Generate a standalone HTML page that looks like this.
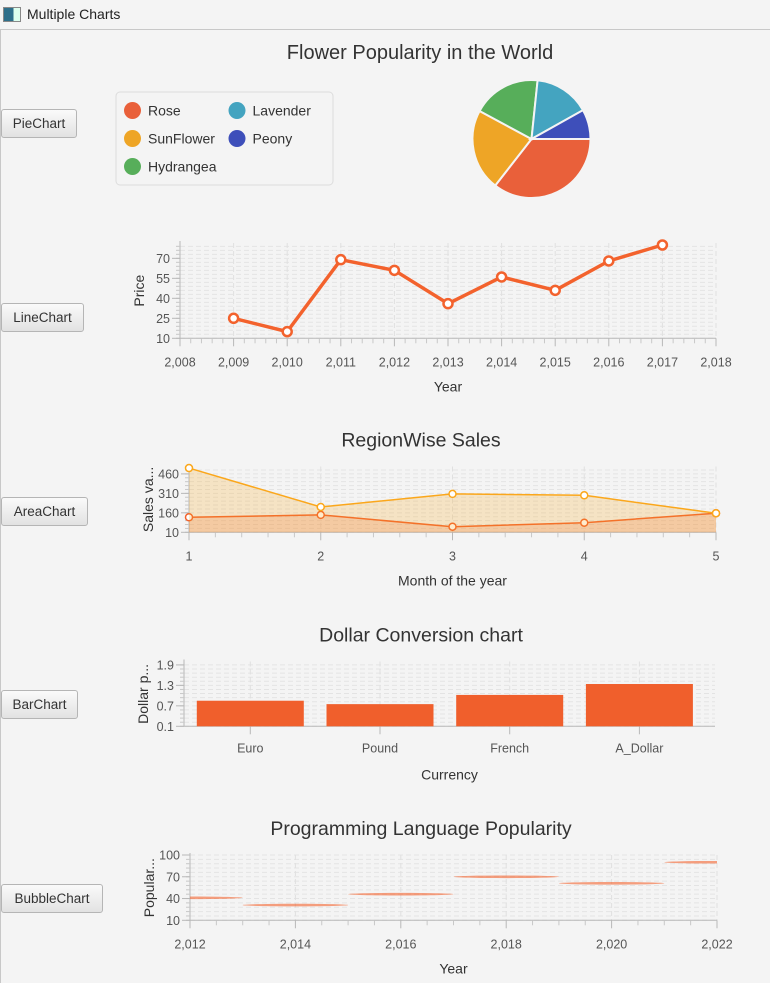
<!DOCTYPE html>
<html><head><meta charset="utf-8">
<style>
body{margin:0;width:770px;height:983px;background:#f4f4f4;overflow:hidden;font-family:"Liberation Sans",sans-serif;position:relative}
.btn{position:absolute;left:1px;height:29px;border:1px solid #b5b5b5;border-radius:3px;background:linear-gradient(#fafafa,#e2e2e2);font-size:13.5px;color:#333;display:flex;align-items:center;justify-content:center;box-sizing:border-box}
#titlebar{position:absolute;left:0;top:0;width:770px;height:29px;border-bottom:1px solid #c8c8c8;background:#f4f4f4}
svg text{font-family:"Liberation Sans",sans-serif}
</style></head><body>
<div id="titlebar">
 <div style="position:absolute;left:3px;top:7px;width:16px;height:13px;border:1px solid #888;background:linear-gradient(90deg,#2d6f8a 60%,#dfe 60%)"></div>
 <div style="position:absolute;left:27px;top:6px;font-size:14px;color:#222">Multiple Charts</div>
</div>
<div style="position:absolute;left:0;top:30px;width:1px;height:953px;background:#c8c8c8"></div>
<div class="btn" style="top:109px;width:76px">PieChart</div>
<div class="btn" style="top:303px;width:83px">LineChart</div>
<div class="btn" style="top:497px;width:87px">AreaChart</div>
<div class="btn" style="top:690px;width:77px">BarChart</div>
<div class="btn" style="top:884px;width:102px">BubbleChart</div>
<svg id="s" width="770" height="983" style="position:absolute;left:0;top:0"></svg>
<script>
// ---- data ----
const pieLabels=["Rose","SunFlower","Hydrangea","Lavender","Peony"];
const pieValues=[35,22,18.5,15,8];
const pieColors=["#e9603a","#eea526","#57ae5a","#44a4c0","#3e4fba"];
const lineYears=[2009,2010,2011,2012,2013,2014,2015,2016,2017];
const linePrices=[25,15,69,61,36,56,46,68,80];
const lineXTicks=[2008,2009,2010,2011,2012,2013,2014,2015,2016,2017,2018];
const lineYTicks=[10,25,40,55,70];
const areaMonths=[1,2,3,4,5];
const areaSeriesA=[126,144,53,84,157];
const areaSeriesB=[505,205,306,295,157];
const areaXTicks=[1,2,3,4,5];
const areaYTicks=[10,160,310,460];
const barCategories=["Euro","Pound","French","A_Dollar"];
const barValues=[0.85,0.75,1.02,1.34];
const barYTicks=[0.1,0.7,1.3,1.9];
const bubbleYears=[2012,2014,2016,2018,2020,2022];
const bubblePopularity=[41,31,46,70,61,90];
const bubbleRadius=[1,1,1,1,1,1];
const bubbleXTicks=[2012,2014,2016,2018,2020,2022];
const bubbleYTicks=[10,40,70,100];

const S=document.getElementById('s');const NS='http://www.w3.org/2000/svg';
function el(tag,attrs,parent,text){const e=document.createElementNS(NS,tag);for(const k in attrs)e.setAttribute(k,attrs[k]);if(text!==undefined)e.textContent=text;(parent||S).appendChild(e);return e;}
function fmt(v){return v>=1000?String(v).replace(/(\d)(\d{3})$/,'$1,$2'):String(v);}

function frame(c){
  const g=el('g',{});
  c.sy=v=>c.y1-(v-c.ymin)/(c.ymax-c.ymin)*(c.y1-c.y0);
  const st=(c.yTicks[1]-c.yTicks[0])/5;
  for(let v=c.yTicks[0];v<=c.ymax+1e-9;v+=st){const y=c.sy(v);if(y<c.y0-0.5)break;
    const ln=el('line',{x1:c.x0,x2:c.x1,y1:y,y2:y,stroke:'#e3e3e3','stroke-dasharray':'5 3','stroke-width':1},g);
    }
  (c.vgrid||[]).forEach(x=>{const ln=el('line',{x1:x,x2:x,y1:c.y0,y2:c.y1,stroke:'#e0e0e0','stroke-dasharray':'5 3'},g);
    });
  el('line',{x1:c.x0,x2:c.x0,y1:c.y0-2,y2:c.y1,stroke:'#b8b8b8'},g);
  for(let v=c.yTicks[0];v<=c.ymax+1e-9;v+=st){const y=c.sy(v);el('line',{x1:c.x0-4,x2:c.x0,y1:y,y2:y,stroke:'#c8c8c8'},g);}
  c.yTicks.forEach(v=>{const y=c.sy(v);el('line',{x1:c.x0-8,x2:c.x0,y1:y,y2:y,stroke:'#b8b8b8'},g);
    const t=el('text',{x:c.x0-10,y:y+4.5,'text-anchor':'end','font-size':12.5,fill:'#555'},g,c.yFmt?c.yFmt(v):v);
    });
  el('line',{x1:c.x0,x2:c.x1,y1:c.y1,y2:c.y1,stroke:'#b8b8b8'},g);
  const yt=el('text',{x:0,y:0,'text-anchor':'middle','font-size':14,fill:'#333',transform:`translate(${c.x0-36},${(c.y0+c.y1)/2}) rotate(-90)`},g,c.yTitle);
  
  const xt=el('text',{x:(c.x0+c.x1)/2,y:c.y1+53,'text-anchor':'middle','font-size':14,fill:'#333'},g,c.xTitle);
  
  if(c.title){const tt=el('text',{x:421,y:c.y0-20,'text-anchor':'middle','font-size':19.5,fill:'#333'},g,c.title);
    }
  return g;
}
function numXTicks(c,g,ticks,minor){
  const step=ticks[1]-ticks[0];
  ticks.forEach((v,i)=>{const x=c.sx(v);el('line',{x1:x,x2:x,y1:c.y1,y2:c.y1+8,stroke:'#b8b8b8'},g);
    const t=el('text',{x:x,y:c.y1+28,'text-anchor':'middle','font-size':12.5,fill:'#555'},g,fmt(v));
    
    if(i<ticks.length-1)for(let k=1;k<minor;k++){const xm=c.sx(v+step*k/minor);el('line',{x1:xm,x2:xm,y1:c.y1,y2:c.y1+5,stroke:'#c8c8c8'},g);}
  });
}

// ---- Pie ----
(function(){
  const g=el('g',{});
  const t=el('text',{x:420,y:59,'text-anchor':'middle','font-size':20,fill:'#333'},g,'Flower Popularity in the World');
  
  const cx=531.5,cy=139,r=59;const tot=pieValues.reduce((a,b)=>a+b,0);let a=0;
  pieValues.forEach((v,i)=>{const a2=a+v/tot*2*Math.PI;
    const x1=cx+r*Math.cos(a),y1=cy+r*Math.sin(a),x2=cx+r*Math.cos(a2),y2=cy+r*Math.sin(a2);
    const p=el('path',{d:`M${cx},${cy}L${x1},${y1}A${r},${r} 0 ${a2-a>Math.PI?1:0} 1 ${x2},${y2}Z`,fill:pieColors[i],stroke:'#f4f4f4','stroke-width':2},g);
    a=a2;});
  const lg=el('rect',{x:116,y:92,width:217,height:93,rx:4,fill:'#f4f4f4',stroke:'#dcdcdc'},g);
  
  const pos=[[132.5,110.5],[132.5,138.5],[132.5,166.5],[237,110.5],[237,138.5]];
  pieLabels.forEach((n,i)=>{const c=el('circle',{cx:pos[i][0],cy:pos[i][1],r:8.5,fill:pieColors[i]},g);
    
    const tx=el('text',{x:pos[i][0]+15.5,y:pos[i][1]+5,'font-size':14,fill:'#333'},g,n);
    });
})();

// ---- Line ----
(function(){
  const c={name:'line-chart',x0:180,x1:716,y0:243,y1:338.3,xmin:2008,xmax:2018,ymin:10,ymax:81.5,yTicks:lineYTicks,yTitle:'Price',xTitle:'Year'};
  c.sx=v=>c.x0+(v-c.xmin)/(c.xmax-c.xmin)*(c.x1-c.x0);c.vgrid=lineXTicks.map(c.sx);
  const g=frame(c);numXTicks(c,g,lineXTicks,5);
  const pts=lineYears.map((y,i)=>[c.sx(y),c.sy(linePrices[i])]);
  const pl=el('polyline',{points:pts.join(' '),fill:'none',stroke:'#f3622d','stroke-width':3.5,'stroke-linejoin':'round'},g);
  
  pts.forEach(p=>{const m=el('circle',{cx:p[0],cy:p[1],r:4.5,fill:'#fff',stroke:'#f3622d','stroke-width':2.5},g);
    });
})();

// ---- Area ----
(function(){
  const c={name:'area-chart',title:'RegionWise Sales',x0:189,x1:716,y0:466.5,y1:532.3,xmin:1,xmax:5,ymin:10,ymax:517,yTicks:areaYTicks,yTitle:'Sales va...',xTitle:'Month of the year'};
  c.sx=v=>c.x0+(v-c.xmin)/(c.xmax-c.xmin)*(c.x1-c.x0);c.vgrid=areaXTicks.map(c.sx);
  const g=frame(c);numXTicks(c,g,areaXTicks,5);
  [[areaSeriesA,'#f3622d','region-a'],[areaSeriesB,'#fba71b','region-b']].forEach(([d,col,n])=>{
    const pts=areaMonths.map((m,i)=>[c.sx(m),c.sy(d[i])]);
    const poly=pts.concat([[c.sx(areaMonths[areaMonths.length-1]),c.y1],[c.sx(areaMonths[0]),c.y1]]);
    const a=el('polygon',{points:poly.join(' '),fill:col,'fill-opacity':0.22},g);
    
    const l=el('polyline',{points:pts.join(' '),fill:'none',stroke:col,'stroke-width':1.5},g);
    
    pts.forEach(p=>{const m=el('circle',{cx:p[0],cy:p[1],r:3.5,fill:'#fff',stroke:col,'stroke-width':1.5},g);
      });
  });
})();

// ---- Bar ----
(function(){
  const c={name:'bar-chart',title:'Dollar Conversion chart',x0:184,x1:715,y0:661.5,y1:726.3,ymin:0.1,ymax:2.0,yTicks:barYTicks,yTitle:'Dollar p...',xTitle:'Currency',yFmt:v=>v.toFixed(1)};
  const band=129.7,first=c.x0+66.3;
  c.sx=i=>first+i*band;c.vgrid=barCategories.map((b,i)=>c.sx(i));
  const g=frame(c);
  const bw=107;
  barCategories.forEach((n,i)=>{const cx=c.sx(i);
    el('line',{x1:cx,x2:cx,y1:c.y1,y2:c.y1+8,stroke:'#b8b8b8'},g);
    const t=el('text',{x:cx,y:c.y1+26,'text-anchor':'middle','font-size':12.5,fill:'#555'},g,n);
    
    const y=c.sy(barValues[i]);
    const r=el('rect',{x:cx-bw/2,y:y,width:bw,height:c.y1-y,fill:'#f05f2c'},g);
    });
})();

// ---- Bubble ----
(function(){
  const c={name:'bubble-chart',title:'Programming Language Popularity',x0:190,x1:717,y0:855,y1:920.3,xmin:2012,xmax:2022,ymin:10,ymax:100,yTicks:bubbleYTicks,yTitle:'Popular...',xTitle:'Year'};
  c.sx=v=>c.x0+(v-c.xmin)/(c.xmax-c.xmin)*(c.x1-c.x0);c.vgrid=bubbleXTicks.map(c.sx);
  const g=frame(c);numXTicks(c,g,bubbleXTicks,4);
  const cp=el('clipPath',{id:'bclip'},g);
  el('rect',{x:c.x0,y:c.y0,width:c.x1-c.x0,height:c.y1-c.y0},cp);
  bubbleYears.forEach((yr,i)=>{const cx=c.sx(yr),cy=c.sy(bubblePopularity[i]);
    const rx=c.sx(yr+bubbleRadius[i])-cx;
    const e=el('ellipse',{cx:cx,cy:cy,rx:rx,ry:1.3,fill:'#f3622d','fill-opacity':0.6,'clip-path':'url(#bclip)'},g);
    });
})();
</script>
</body></html>
